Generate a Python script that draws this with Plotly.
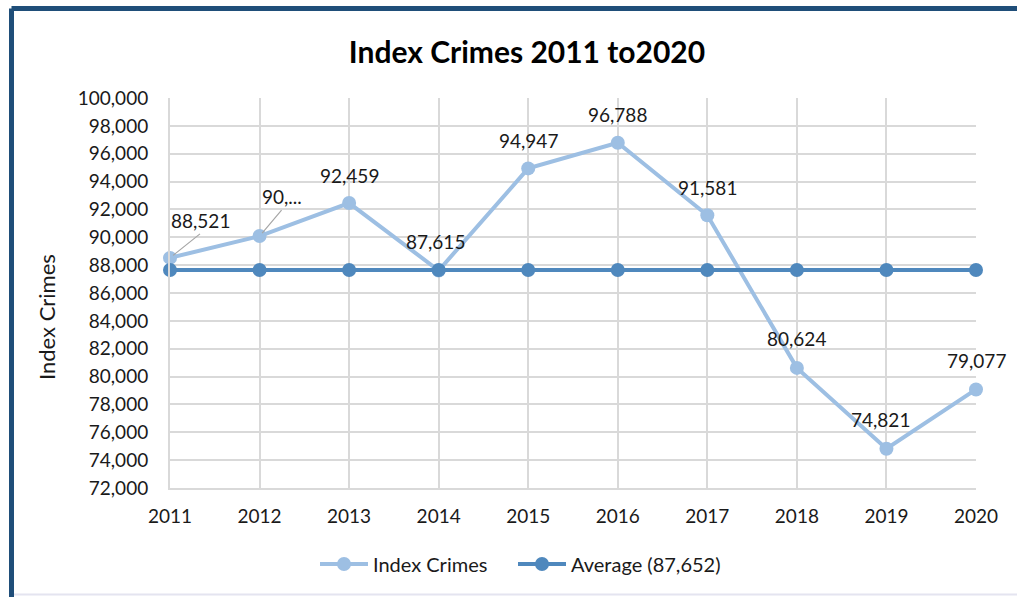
import plotly.graph_objects as go

years = [2011, 2012, 2013, 2014, 2015, 2016, 2017, 2018, 2019, 2020]
index_crimes = [88521, 90087, 92459, 87615, 94947, 96788, 91581, 80624, 74821, 79077]
average_value = 87652
average = [average_value] * len(years)
label_texts = ["88,521", "90,...", "92,459", "87,615", "94,947", "96,788", "91,581", "80,624", "74,821", "79,077"]
y_ticks = list(range(72000, 100001, 2000))

# label offsets in pixels (ax, ay) relative to the point
label_offsets = [(30, -24), (22, -26), (0, -28), (-3, -29), (0, -28), (0, -28), (0, -28), (0, -29), (-6, -29), (0, -29)]
leader = [True, True, False, False, False, False, False, False, False, False]

c_idx = "#9DBFE3"
c_avg = "#4F88BD"
font = "Lato"
tcol = "#1a1a1a"

fig = go.Figure()
fig.add_trace(go.Scatter(
    x=years, y=index_crimes, name="Index Crimes", mode="lines+markers",
    line=dict(color=c_idx, width=4), marker=dict(color=c_idx, size=14),
    cliponaxis=False, legend="legend",
))
fig.add_trace(go.Scatter(
    x=years, y=average, name="Average (87,652)", mode="lines+markers",
    line=dict(color=c_avg, width=4), marker=dict(color=c_avg, size=14),
    cliponaxis=False, legend="legend2",
))

for x, y, t, (ax, ay), ld in zip(years, index_crimes, label_texts, label_offsets, leader):
    if ld:
        fig.add_annotation(x=x, y=y, text=t, showarrow=True, arrowhead=0, arrowwidth=1.2,
                           arrowcolor="#A6A6A6", ax=ax, ay=ay, standoff=4,
                           xanchor="center", yanchor="bottom", font=dict(family=font, size=19, color=tcol))
    else:
        fig.add_annotation(x=x, y=y, text=t, showarrow=False, xshift=ax, yshift=-ay,
                           yanchor="middle", font=dict(family=font, size=19, color=tcol))

# frame (dark blue border top and left, thin line bottom)
L, R, T, B = 170, 976, 98, 488
W, H = R - L, B - T
def px(x): return (x - L) / W
def py(y): return (B - y) / H
fig.add_shape(type="line", xref="paper", yref="paper", x0=px(11.5), x1=px(1017), y0=py(8.5), y1=py(8.5),
              line=dict(color="#1F4E79", width=5))
fig.add_shape(type="line", xref="paper", yref="paper", x0=px(11.5), x1=px(11.5), y0=py(8.5), y1=py(600),
              line=dict(color="#1F4E79", width=5))
fig.add_shape(type="line", xref="paper", yref="paper", x0=px(14), x1=px(1017), y0=py(594.5), y1=py(594.5),
              line=dict(color="#E4E4F0", width=2))

# y-axis title (placed like the original, below the axis centre)
fig.add_annotation(xref="paper", yref="paper", x=px(46), y=py(317), text="Index Crimes", textangle=-90,
                   showarrow=False, xanchor="center", yanchor="middle",
                   font=dict(family=font, size=22, color=tcol))

legend_common = dict(orientation="h", yanchor="middle", y=py(564), xanchor="left",
                     font=dict(family=font, size=20, color=tcol), itemwidth=48,
                     bgcolor="rgba(0,0,0,0)")

fig.update_layout(
    width=1017, height=597,
    paper_bgcolor="white", plot_bgcolor="white",
    margin=dict(l=L, r=1017 - R, t=T, b=597 - B),
    title=dict(text="<b>Index Crimes 2011 to2020</b>", x=px(527), xref="paper", xanchor="center",
               y=1 - 52 / 597, yanchor="middle", font=dict(family=font, size=30, color="#000000")),
    font=dict(family=font, size=19, color=tcol),
    showlegend=True,
    legend=dict(x=px(315), **legend_common),
    legend2=dict(x=px(513), **legend_common),
    xaxis=dict(range=[2011, 2020], tickvals=years, ticktext=[str(y) for y in years],
               showgrid=True, gridcolor="#D9D9D9", gridwidth=2, zeroline=False,
               showline=True, linecolor="#D9D9D9", linewidth=2, ticks="", ticklabelstandoff=10,
               tickfont=dict(family=font, size=19, color=tcol)),
    yaxis=dict(range=[72000, 100000], tickvals=y_ticks, tickformat=",d",
               showgrid=True, gridcolor="#D9D9D9", gridwidth=2, zeroline=False,
               showline=True, linecolor="#D9D9D9", linewidth=2, ticks="", ticklabelstandoff=16,
               tickfont=dict(family=font, size=19, color=tcol)),
)

fig.write_html("out.html", config={"displayModeBar": False},
               post_script="document.body.style.margin='0px';")
